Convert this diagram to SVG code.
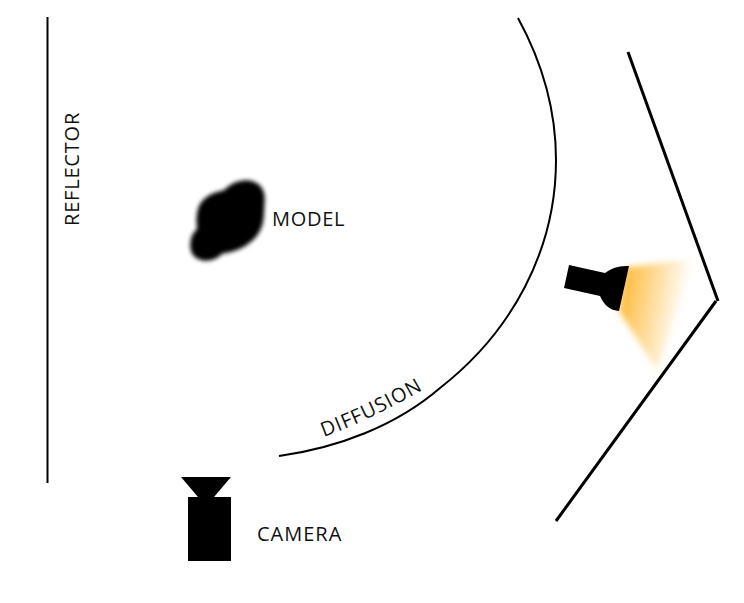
<svg xmlns="http://www.w3.org/2000/svg" width="744" height="603" viewBox="0 0 744 603">
<style>
text{font-family:"Open Sans","Noto Sans",sans-serif;font-size:20px;fill:#111;letter-spacing:.7px}
.l{fill:none;stroke:#000;stroke-linecap:butt}
</style>
<defs>
<filter id="b" x="-20%" y="-20%" width="140%" height="140%"><feGaussianBlur stdDeviation="1.9"/></filter>
<filter id="g" x="-20%" y="-20%" width="140%" height="140%"><feGaussianBlur stdDeviation="3"/></filter>
<linearGradient id="lg" gradientUnits="userSpaceOnUse" x1="622" y1="288" x2="686" y2="300">
<stop offset="0" stop-color="#fdbb3c"/><stop offset="1" stop-color="#fdbb3c" stop-opacity="0"/>
</linearGradient>
<path id="dp" d="M324 437Q376 418 436 382"/>
</defs>
<rect width="744" height="603" fill="#fff"/>
<g id="reflector"><path class="l" stroke-width="2" d="M47.5 17V483"/><text transform="translate(79 226) rotate(-90)" style="letter-spacing:.8px">REFLECTOR</text></g>
<g id="model"><path filter="url(#b)" stroke="#000" stroke-width="1.5" d="M224 191Q235 180 248 181Q263 183 264 198L263 217Q262 231 252 240Q240 251 222 253Q214 261 204 260Q191 258 191 245Q191 235 198 229Q196 218 199 208Q204 195 224 191Z"/><text x="272" y="226">MODEL</text></g>
<g id="diffusion"><path class="l" stroke-width="2" d="M518 18C542 62 556 110 556 160C556 250 512 332 440 388C396 426 337 448 279 456"/><text style="letter-spacing:.9px"><textPath href="#dp">DIFFUSION</textPath></text></g>
<g id="light">
<path fill="url(#lg)" filter="url(#g)" d="M624 268Q665 262 694 259L657 370L619 311Z"/>
<path d="M569 265L605 273Q615 265 629 266L619 311Q606 310 600 296L564 288Z"/>
</g>
<g id="flag"><path class="l" stroke-width="3" d="M628 52L718 301"/><path class="l" stroke-width="3" d="M716 301L556 521"/></g>
<g id="camera"><path d="M181 477H231L214 497H198Z"/><rect x="188" y="497" width="43" height="64"/><text x="257" y="541" style="letter-spacing:1px">CAMERA</text></g>
</svg>
